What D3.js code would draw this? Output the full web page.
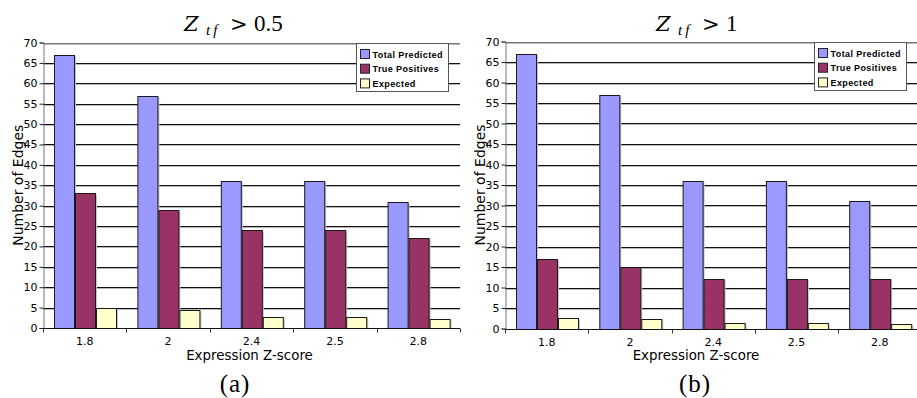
<!DOCTYPE html>
<html>
<head>
<meta charset="utf-8">
<script src="https://cdn.jsdelivr.net/npm/d3@7"></script>
<style>
  html, body { margin: 0; padding: 0; background: #fff; }
  svg { display: block; }
</style>
</head>
<body>
<svg id="chart" width="917" height="398"></svg>
<script>
// Expression Z-score thresholds (x categories)
const categories = ["1.8", "2", "2.4", "2.5", "2.8"];
const seriesNames = ["Total Predicted", "True Positives", "Expected"];
const seriesColors = ["#9999FF", "#993366", "#FFFFCC"];
const yTicks = [0, 5, 10, 15, 20, 25, 30, 35, 40, 45, 50, 55, 60, 65, 70];

// Panel (a): Z_tf > 0.5
const totalPredictedA = [67, 57, 36, 36, 31];
const truePositivesA  = [33, 29, 24, 24, 22];
const expectedA       = [5, 4.3, 2.6, 2.6, 2.3];

// Panel (b): Z_tf > 1
const totalPredictedB = [67, 57, 36, 36, 31];
const truePositivesB  = [17, 15, 12, 12, 12];
const expectedB       = [2.6, 2.3, 1.4, 1.4, 1.2];

const svg = d3.select("#chart");
const SANS = "'DejaVu Sans', Verdana, sans-serif";
const SERIF = "'Liberation Serif', 'DejaVu Serif', serif";
const WIDE_SERIF = "'DejaVu Serif', serif";

function drawPanel(opt) {
  const { left, right, top, bottom, values, threshold, caption, titleX, captionX, legendX } = opt;
  const g = svg.append("g");

  const y = d3.scaleLinear().domain([0, 70]).range([bottom, top]);
  const x0 = d3.scaleBand().domain(categories).range([left, right]);
  const bw = x0.bandwidth();
  const x1 = d3.scaleBand().domain(seriesNames).range([bw * 0.132, bw * 0.887]);

  // horizontal gridlines (dark line with a soft gray underline)
  yTicks.filter(v => v > 0).forEach(v => {
    const yy = Math.round(y(v)) + 0.5;
    g.append("line").attr("x1", left).attr("x2", right).attr("y1", yy + 1).attr("y2", yy + 1)
      .attr("stroke", "#b8b8b8").attr("stroke-width", 1);
    g.append("line").attr("x1", left).attr("x2", right).attr("y1", yy).attr("y2", yy)
      .attr("stroke", v === 70 ? "#777" : "#111").attr("stroke-width", 1);
  });

  // bars
  const rows = categories.map((c, i) => ({ cat: c, vals: values.map(s => s[i]) }));
  const groups = g.selectAll("g.grp").data(rows).join("g")
    .attr("transform", d => `translate(${x0(d.cat)},0)`);
  groups.selectAll("rect.shadow").data(d => d.vals.map((v, k) => ({ v, k })))
    .join("rect")
    .attr("x", d => Math.round(x1(seriesNames[d.k])) + 1.5)
    .attr("y", d => Math.round(y(d.v)) + 1.5)
    .attr("width", Math.round(x1.bandwidth()) - 0.5)
    .attr("height", d => Math.round(y(0)) - Math.round(y(d.v)) - 1.5)
    .attr("fill", "#c4c4c4");
  groups.selectAll("rect.bar").data(d => d.vals.map((v, k) => ({ v, k })))
    .join("rect")
    .attr("x", d => Math.round(x1(seriesNames[d.k])) + 0.5)
    .attr("y", d => Math.round(y(d.v)) + 0.5)
    .attr("width", Math.round(x1.bandwidth()) - 1)
    .attr("height", d => Math.round(y(0)) - Math.round(y(d.v)))
    .attr("fill", d => seriesColors[d.k])
    .attr("stroke", "#1a1a1a").attr("stroke-width", 1);

  // y axis
  const yAxis = d3.axisLeft(y).tickValues(yTicks).tickSize(4).tickPadding(2).tickFormat(d3.format("d"));
  const ya = g.append("g").attr("transform", `translate(${left + 0.5},0)`).call(yAxis);
  ya.select(".domain").attr("stroke", "#777");
  ya.selectAll(".tick line").attr("stroke", "#222");
  ya.selectAll("text").attr("font-family", SANS).attr("font-size", 11).attr("fill", "#000");

  // x axis with boundary ticks
  const xa = g.append("g").attr("transform", `translate(0,${Math.round(y(0)) + 0.5})`);
  xa.append("line").attr("x1", left).attr("x2", right).attr("stroke", "#111").attr("stroke-width", 1.2);
  const bounds = categories.map(c => x0(c)).concat([x0(categories[categories.length - 1]) + bw]);
  xa.selectAll("line.tk").data(bounds).join("line")
    .attr("x1", d => Math.round(d) + 0.5).attr("x2", d => Math.round(d) + 0.5)
    .attr("y1", 0).attr("y2", 4).attr("stroke", "#333");
  xa.selectAll("text.lbl").data(categories).join("text")
    .attr("x", d => x0(d) + bw / 2).attr("y", 16)
    .attr("text-anchor", "middle").attr("font-family", SANS).attr("font-size", 11)
    .text(d => d);

  // axis titles
  g.append("text").attr("x", (left + Math.min(right, 917 - 4)) / 2 + (opt.xtitleShift || 0)).attr("y", 360)
    .attr("text-anchor", "middle").attr("font-family", SANS).attr("font-size", 13.4)
    .text("Expression Z-score");
  g.append("text")
    .attr("transform", `translate(${left - 20},${(top + bottom) / 2}) rotate(-90)`)
    .attr("text-anchor", "middle").attr("font-family", SANS).attr("font-size", 14)
    .text("Number of Edges");

  // title: Z_{tf} > threshold
  const t = g.append("text").attr("y", 31).attr("font-family", SERIF).attr("font-size", 23);
  t.append("tspan").attr("x", titleX).attr("font-family", WIDE_SERIF).attr("font-size", 21)
    .attr("font-style", "italic").text("Z");
  t.append("tspan").attr("x", titleX + 22).attr("y", 34.5).attr("font-style", "italic")
    .attr("font-size", 15).attr("letter-spacing", 3).text("tf");
  t.append("tspan").attr("x", titleX + 46).attr("y", 31).attr("font-family", WIDE_SERIF)
    .attr("font-size", 21).text(">");
  t.append("tspan").attr("x", titleX + 70).attr("y", 31).text(threshold);

  // caption
  g.append("text").attr("x", captionX).attr("y", 392)
    .attr("text-anchor", "middle").attr("font-family", SERIF).attr("font-size", 25)
    .attr("letter-spacing", 1).text(caption);

  // legend
  const lg = g.append("g").attr("transform", `translate(${legendX},${Math.round(top)})`);
  lg.append("rect").attr("x", 0.5).attr("y", 0.5).attr("width", 92).attr("height", 48)
    .attr("fill", "#fff").attr("stroke", "#555");
  seriesNames.forEach((s, k) => {
    const ry = 6 + k * 14.7;
    lg.append("rect").attr("x", 4.5).attr("y", ry + 0.5).attr("width", 9).attr("height", 9)
      .attr("fill", seriesColors[k]).attr("stroke", "#222");
    lg.append("text").attr("x", 16.5).attr("y", ry + 8.5)
      .attr("font-family", "'Liberation Sans', Arial, sans-serif").attr("font-weight", "bold")
      .attr("font-size", 9).attr("letter-spacing", 0.4).text(s);
  });
}

drawPanel({
  left: 43, right: 460, top: 42.5, bottom: 328,
  values: [totalPredictedA, truePositivesA, expectedA],
  threshold: "0.5", caption: "(a)", titleX: 184, captionX: 235, legendX: 356, xtitleShift: -2
});
drawPanel({
  left: 505, right: 921.5, top: 41.5, bottom: 328.5,
  values: [totalPredictedB, truePositivesB, expectedB],
  threshold: "1", caption: "(b)", titleX: 656, captionX: 695, legendX: 814, xtitleShift: -13
});
</script>
</body>
</html>
